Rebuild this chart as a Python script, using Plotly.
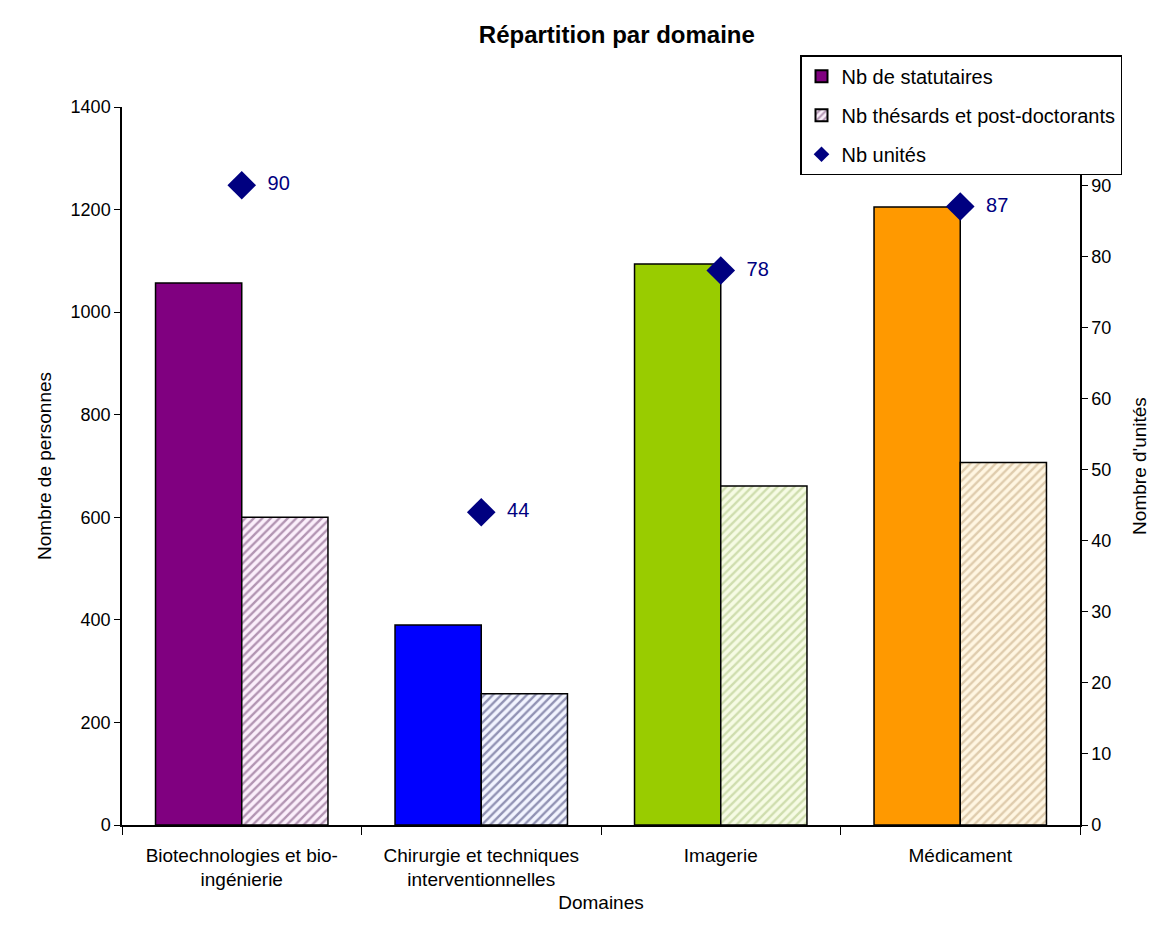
import plotly.graph_objects as go

categories = ["Biotechnologies et bio-<br>ingénierie", "Chirurgie et techniques<br>interventionnelles", "Imagerie", "Médicament"]
statutaires = [1057, 390, 1094, 1205]
thesards = [600, 256, 661, 707]
unites = [90, 44, 78, 87]

colors_stat = ["#800080", "#0000FF", "#99CC00", "#FF9900"]
hatch_fg = ["#6A3A6A", "#303068", "#A8C078", "#BFA278"]
hatch_bg = ["#FBEFFB", "#F2F4FF", "#F6FBE4", "#FFF6E2"]

FONT = "Liberation Sans"

# figure is offset 8px by the page body margin; sizes compensate for that
fig = go.Figure()
fig.add_trace(go.Bar(
    x=categories, y=statutaires, name="Nb de statutaires", legendgroup="a",
    marker=dict(color=colors_stat, line=dict(color="black", width=1.5)),
))
fig.add_trace(go.Bar(
    x=categories, y=thesards, name="Nb thésards et post-doctorants", legendgroup="b",
    marker=dict(color="white", line=dict(color="black", width=1.5),
                pattern=dict(shape="/", fgcolor=hatch_fg, bgcolor=hatch_bg, size=6, solidity=0.4)),
))
fig.add_trace(go.Scatter(
    x=categories, y=unites, name="Nb unités", yaxis="y2", mode="markers+text", legendgroup="c",
    marker=dict(symbol="diamond", color="#000080", size=22),
    text=["  " + str(v) for v in unites], textposition="middle right",
    textfont=dict(color="#000080", size=20, family=FONT),
))

fig.update_layout(
    width=1151, height=922,
    paper_bgcolor="white", plot_bgcolor="white",
    margin=dict(l=114, r=79, t=99, b=105, autoexpand=False),
    barmode="group", bargap=0.28, bargroupgap=0,
    font=dict(family=FONT, size=18, color="black"),
    title=dict(text="<b>Répartition par domaine</b>", x=0.529, xanchor="center", y=0.971, yanchor="middle",
               font=dict(size=24, family=FONT)),
    showlegend=True,
    legend=dict(x=(792 - 114) / (1072 - 114), xref="paper", y=1.072, yanchor="top", xanchor="left",
                bgcolor="white", bordercolor="black", borderwidth=1.5,
                font=dict(size=20, family=FONT), tracegroupgap=10, itemsizing="constant"),
    xaxis=dict(showline=True, linecolor="black", linewidth=1.5, ticks="outside", tickson="boundaries",
               ticklen=8, tickcolor="black", automargin=False, ticklabelstandoff=12,
               title=dict(text="Domaines", standoff=6, font=dict(size=19)),
               tickfont=dict(size=19)),
    yaxis=dict(range=[0, 1400], dtick=200, showline=True, linecolor="black", linewidth=1.5,
               ticks="outside", ticklen=6, tickcolor="black", showgrid=False, zeroline=False,
               automargin=False,
               title=dict(text="Nombre de personnes", standoff=14, font=dict(size=19)),
               tickfont=dict(size=18)),
    yaxis2=dict(range=[0, 101], tickvals=list(range(0, 100, 10)), overlaying="y", side="right",
                showline=True, linecolor="black", linewidth=1.5, ticks="outside", ticklen=6,
                tickcolor="black", showgrid=False, zeroline=False, automargin=False,
                title=dict(text="Nombre d'unités", standoff=22, font=dict(size=19)),
                tickfont=dict(size=18)),
)

fig.write_html("out.html")
